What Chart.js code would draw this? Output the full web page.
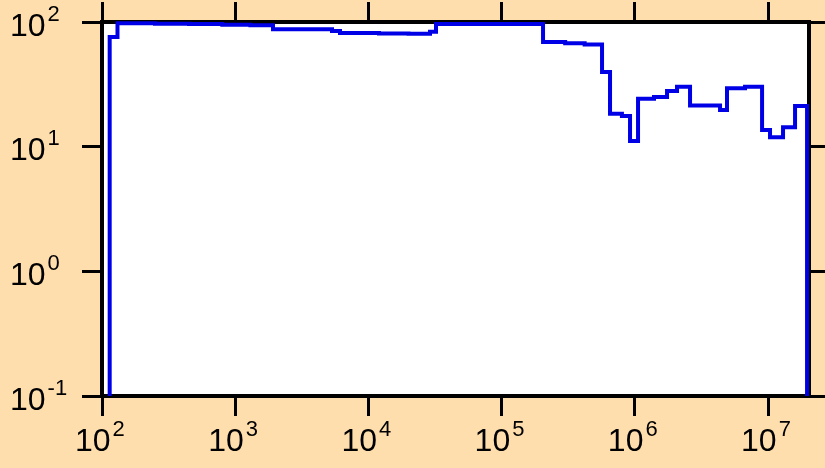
<!DOCTYPE html>
<html><head><meta charset="utf-8">
<script src="https://cdn.jsdelivr.net/npm/chart.js@4.4.1/dist/chart.umd.min.js"></script>
<style>html,body{margin:0;padding:0;background:#FFDEAD;overflow:hidden}canvas{display:block}</style>
</head><body>
<canvas id="c" width="825" height="468"></canvas>
<script>
// Step histogram: each value holds from its edge to the next edge
const binEdges = [100, 114.2, 130.7, 250, 450, 800, 1300, 1922, 5330, 6120, 12000, 20000, 29000, 32170,
  204600, 300000, 420000, 567300, 651400, 800000, 920400, 1057000, 1393000, 1745000, 2074000, 2597000,
  4362000, 4920000, 6720000, 9020000, 10350000, 12960000, 15950000, 19630000];
const binValues = [0.01, 75.8, 97.5, 97, 96.2, 95.2, 94, 87.4, 84.7, 81.5, 80.8, 80.5, 83.6, 96.5,
  69, 67.5, 66, 39.7, 18.4, 17.6, 11.1, 24.2, 25, 28, 30.2, 21.4,
  19.7, 29.4, 30.2, 13.6, 11.9, 14.3, 21.2, 0.01];
const xTickValues = [1e2, 1e3, 1e4, 1e5, 1e6, 1e7];
const xTickExps = ['2', '3', '4', '5', '6', '7'];
const yTickValues = [0.1, 1, 10, 100];
const yTickExps = ['-1', '0', '1', '2'];
const xMin = 100, xMax = 2.03e7, yMin = 0.1, yMax = 100;

const points = binEdges.map((x, i) => ({ x: x, y: binValues[i] }));

function axis(pos, min, max, vals, tl) {
  return {
    type: 'logarithmic', position: pos, min: min, max: max,
    afterBuildTicks: s => { s.ticks = vals.map(v => ({ value: v })); },
    ticks: { display: false },
    grid: { display: true, drawOnChartArea: false, drawTicks: true, tickLength: tl,
            tickWidth: 3, tickColor: '#000', color: '#000', lineWidth: 3 },
    border: { display: true, color: '#000', width: 4 }
  };
}

const bgPlugin = {
  id: 'bg',
  beforeDraw(chart) {
    const { ctx, chartArea: a } = chart;
    ctx.save();
    ctx.fillStyle = '#FFDEAD';
    ctx.fillRect(0, 0, chart.width, chart.height);
    ctx.fillStyle = '#FFFFFF';
    ctx.fillRect(a.left, a.top, a.right - a.left, a.bottom - a.top);
    ctx.restore();
  }
};

const labelPlugin = {
  id: 'lbl',
  afterDraw(chart) {
    const ctx = chart.ctx, xs = chart.scales.x, ys = chart.scales.y, a = chart.chartArea;
    const bf = '32px "Liberation Sans", Arial, sans-serif';
    const sf = '22px "Liberation Sans", Arial, sans-serif';
    ctx.save();
    ctx.fillStyle = '#000';
    ctx.textAlign = 'left';
    ctx.textBaseline = 'alphabetic';
    xTickValues.forEach((v, i) => {
      const px = xs.getPixelForValue(v);
      ctx.font = bf;
      const wb = ctx.measureText('10').width;
      const x0 = px - 27;
      const by = a.bottom + 55;
      ctx.fillText('10', x0, by);
      ctx.font = sf;
      ctx.fillText(xTickExps[i], x0 + wb + 2, by - 15);
    });
    yTickValues.forEach((v, i) => {
      const py = ys.getPixelForValue(v);
      ctx.font = bf;
      const wb = ctx.measureText('10').width;
      const by = py + 13.5;
      ctx.fillText('10', 10, by);
      ctx.font = sf;
      ctx.fillText(yTickExps[i], 10 + wb + 2, by - 15);
    });
    ctx.restore();
  }
};

new Chart(document.getElementById('c'), {
  type: 'line',
  data: {
    datasets: [{
      data: points,
      borderColor: '#0000E6',
      borderWidth: 4,
      pointRadius: 0,
      stepped: 'before',
      fill: false,
      tension: 0,
      clip: { left: 0, top: 3, right: 3, bottom: 0 }
    }]
  },
  options: {
    responsive: false,
    animation: false,
    devicePixelRatio: 1,
    layout: { padding: { left: 82, top: 2, right: 0, bottom: 52 } },
    plugins: { legend: { display: false }, tooltip: { enabled: false } },
    scales: {
      x: axis('bottom', xMin, xMax, xTickValues, 20),
      x2: axis('top', xMin, xMax, xTickValues, 20),
      y: axis('left', yMin, yMax, yTickValues, 20),
      y2: axis('right', yMin, yMax, yTickValues, 16)
    }
  },
  plugins: [bgPlugin, labelPlugin]
});
</script>
</body></html>
